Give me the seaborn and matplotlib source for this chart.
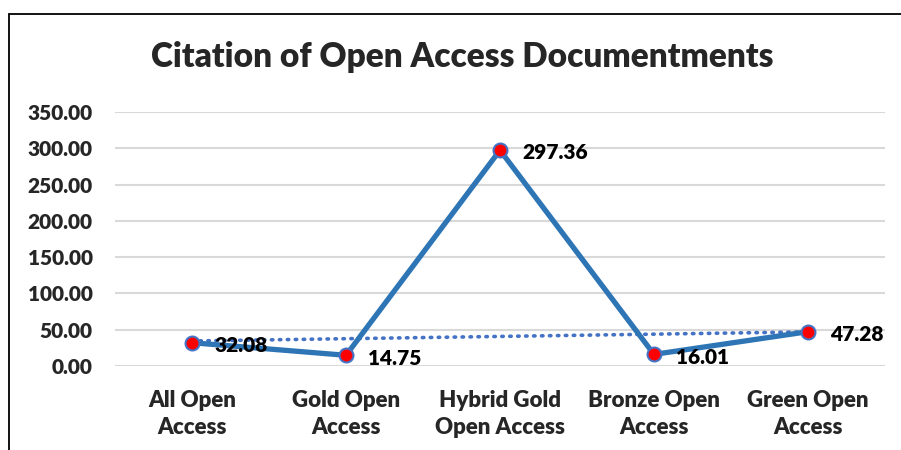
import matplotlib
matplotlib.use("Agg")
import matplotlib.pyplot as plt
from matplotlib.lines import Line2D
import numpy as np
import pandas as pd
import seaborn as sns

# ── data ────────────────────────────────────────────────────────────────
categories = ["All Open\nAccess", "Gold Open\nAccess", "Hybrid Gold\nOpen Access",
              "Bronze Open\nAccess", "Green Open\nAccess"]
citations = [32.08, 14.75, 297.36, 16.01, 47.28]
trend_values = [34.5, 47.0]          # dotted trendline, first -> last category
y_ticks = [0, 50, 100, 150, 200, 250, 300, 350]

LINE_BLUE = "#2E75B6"
TREND_BLUE = "#4472C4"
GRID = "#D9D9D9"
WEIGHT = 800   # Calibri-bold look

sns.set_style("white")
plt.rcParams["font.family"] = ["Lato", "DejaVu Sans"]
plt.rcParams["font.weight"] = WEIGHT

df = pd.DataFrame({"pos": np.arange(len(categories)), "value": citations})
trend_df = pd.DataFrame({"pos": [0, len(categories) - 1], "value": trend_values})

fig = plt.figure(figsize=(9.01, 4.5), dpi=100)
ax = fig.add_axes([115 / 901, 1 - 366 / 450, 770 / 901, 254 / 450])

# trendline first so the main series sits on top
sns.lineplot(data=trend_df, x="pos", y="value", ax=ax, color=TREND_BLUE,
             linewidth=2.6, linestyle=(0, (0.4, 1.8)), dash_capstyle="round")
sns.lineplot(data=df, x="pos", y="value", ax=ax, color=LINE_BLUE, linewidth=3.8,
             marker="o", markersize=10, markerfacecolor="#FF0000",
             markeredgecolor="#4472C4", markeredgewidth=1.5)

# data labels to the right of each point
for x, v in zip(df["pos"], df["value"]):
    ax.annotate(f"{v:.2f}", (x, v), xytext=(16, -2), textcoords="offset points",
                ha="left", va="center", fontsize=15, fontweight=WEIGHT, color="black")

ax.set_xlim(-0.5, len(categories) - 0.5)
ax.set_ylim(0, 350)
ax.set_yticks(y_ticks)
ax.set_yticklabels([f"{t:.2f}" for t in y_ticks], fontsize=15, fontweight=WEIGHT)
ax.set_xticks(df["pos"])
ax.set_xticklabels(categories, fontsize=16, fontweight=WEIGHT, linespacing=1.4)
ax.tick_params(axis="both", length=0)
ax.tick_params(axis="y", pad=16)
ax.tick_params(axis="x", pad=17)
ax.set_xlabel("")
ax.set_ylabel("")

ax.grid(axis="y", color=GRID, linewidth=1.5)
ax.set_axisbelow(True)
for s in ax.spines.values():
    s.set_visible(False)

fig.text(462 / 901, 1 - 57 / 450, "Citation of Open Access Documentments",
         ha="center", va="center", fontsize=24, fontweight=WEIGHT)

# chart-area border (only left and top edges are visible in the crop)
fig.add_artist(Line2D([8.5 / 901, 8.5 / 901], [0, 1 - 13.5 / 450],
                      transform=fig.transFigure, color="black", linewidth=1.3))
fig.add_artist(Line2D([8.5 / 901, 1], [1 - 13.5 / 450, 1 - 13.5 / 450],
                      transform=fig.transFigure, color="black", linewidth=1.3))

fig.savefig("out.png", dpi=100)
